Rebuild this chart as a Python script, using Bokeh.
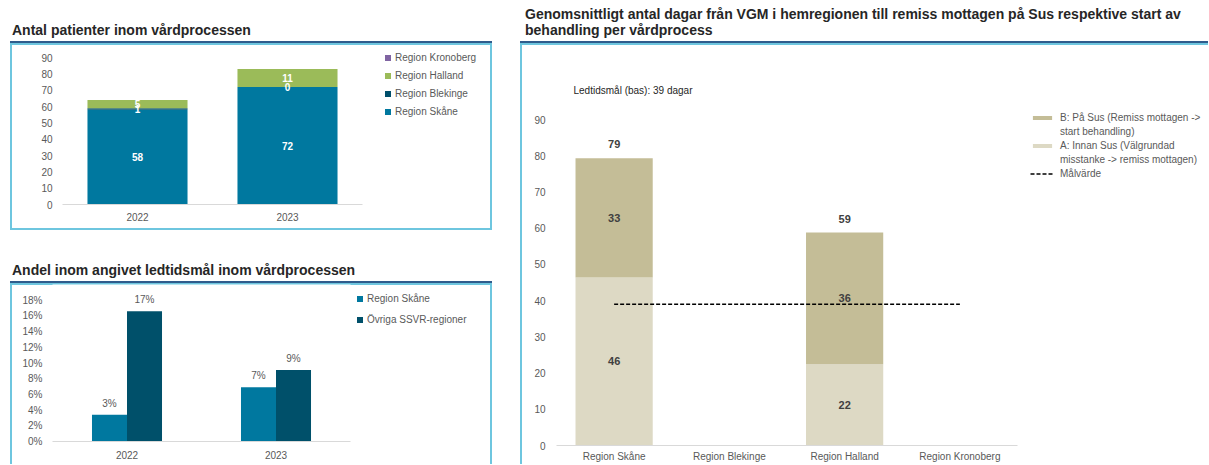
import numpy as np
from bokeh.plotting import figure
from bokeh.models import (ColumnDataSource, FactorRange, Range1d, FixedTicker,
                          NumeralTickFormatter, Legend, LegendItem, Div, Spacer)
from bokeh.layouts import row, column
from bokeh.transform import dodge
from bokeh.core.properties import value
from bokeh.embed import file_html
from bokeh.resources import INLINE

# ---------------- data ----------------
# Antal patienter inom vårdprocessen
years = ["2022", "2023"]
pat_skane = [58, 72]
pat_blekinge = [1, 0]
pat_halland = [5, 11]
pat_kronoberg = [0, 0]
pat_ticks = [0, 10, 20, 30, 40, 50, 60, 70, 80, 90]

# Andel inom angivet ledtidsmål
share_years = ["2022", "2023"]
share_skane = [0.034, 0.069]
share_ovriga = [0.166, 0.091]
share_ticks = [0, 0.02, 0.04, 0.06, 0.08, 0.10, 0.12, 0.14, 0.16, 0.18]

# Genomsnittligt antal dagar
regions = ["Region Skåne", "Region Blekinge", "Region Halland", "Region Kronoberg"]
days_a = [46.4, None, 22.4, None]   # A: Innan Sus
days_b = [32.9, None, 36.4, None]   # B: På Sus
target_days = 39
day_ticks = [0, 10, 20, 30, 40, 50, 60, 70, 80, 90]

# ---------------- style ----------------
FONT = "Liberation Sans"
TICK_COLOR = "#595959"
BOX = "#6EC6DF"
RULE = "#2F5C8C"
C_SKANE = "#00789F"
C_BLEK = "#004F6B"
C_HALL = "#9BBB59"
C_KRON = "#8064A2"
C_OVR = "#00506A"
C_A = "#DDD9C4"
C_B = "#C4BD97"
DASH = "4 2"


def title_div(html, width, height, pad_left):
    t = ('<div style="width:%dpx;height:%dpx;box-sizing:border-box;'
         'border-bottom:2px solid %s;font-family:\'Liberation Sans\';font-weight:bold;'
         'font-size:14px;line-height:16px;color:#262626;display:flex;align-items:flex-end;'
         'white-space:nowrap;padding:0 0 3px %dpx;">%s</div>') % (width, height, RULE, pad_left, html)
    return Div(text=t, width=width, height=height, margin=0)


def box_style(sides):
    g = "linear-gradient(%s, %s)" % (BOX, BOX)
    parts = []
    if "t" in sides:
        parts.append(g + " left top / 100% 2px no-repeat")
    if "l" in sides:
        parts.append(g + " left top / 2px 100% no-repeat")
    if "r" in sides:
        parts.append(g + " right top / 2px 100% no-repeat")
    if "b" in sides:
        parts.append(g + " left bottom / 100% 2px no-repeat")
    parts.append("#ffffff")
    return {"background": ", ".join(parts)}


def style(p, ystand, xstand):
    p.frame_align = False
    p.xgrid.visible = False
    p.ygrid.visible = False
    p.outline_line_color = None
    p.border_fill_alpha = 0
    p.background_fill_color = "white"
    for ax in (p.xaxis[0], p.yaxis[0]):
        ax.major_tick_line_color = None
        ax.minor_tick_line_color = None
        ax.major_tick_out = 0
        ax.major_tick_in = 0
        ax.minor_tick_out = 0
        ax.minor_tick_in = 0
        ax.major_label_text_font = FONT
        ax.major_label_text_font_size = "10px"
        ax.major_label_text_color = TICK_COLOR
    p.yaxis[0].axis_line_color = None
    p.xaxis[0].axis_line_color = "#D9D9D9"
    p.yaxis[0].major_label_standoff = ystand
    p.xaxis[0].major_label_standoff = xstand


def legend_fig(width, height, specs, left, top, gw, gh, lh, sp, standoff, sides):
    # a frameless figure that only holds the legend; its swatch renderers sit outside its ranges
    lf = figure(width=width, height=height, x_range=Range1d(0, 1), y_range=Range1d(0, 1),
                toolbar_location=None, output_backend="svg", title=None,
                x_axis_location=None, y_axis_location=None,
                min_border_left=left, min_border_top=top, min_border_right=0, min_border_bottom=0,
                styles=box_style(sides))
    lf.frame_align = False
    lf.grid.visible = False
    lf.outline_line_color = None
    lf.border_fill_alpha = 0
    lf.background_fill_alpha = 0
    items = []
    for label, kind, color in specs:
        if kind == "square":
            r = lf.scatter(x=[5], y=[5], marker="square", fill_color=color, line_color=None)
        elif kind == "bar":
            r = lf.vbar(x=[5], top=[5], width=0.5, fill_color=color, line_color=None)
        elif kind == "line":
            r = lf.line(x=[5, 6], y=[5, 5], line_color=color, line_dash=DASH, line_width=1.3)
        else:  # continuation line of a wrapped label: no swatch
            r = lf.vbar(x=[5], top=[5], width=0.5, fill_color=None, line_color=None)
        items.append(LegendItem(label=label, renderers=[r]))
    lf.add_layout(Legend(items=items, location="top_left", glyph_width=gw, glyph_height=gh,
                         label_height=lh, spacing=sp, padding=0, margin=0, label_standoff=standoff,
                         border_line_color=None, background_fill_alpha=0,
                         label_text_font=FONT, label_text_font_size="10px",
                         label_text_color=TICK_COLOR))
    return lf


# ---------------- chart 1 ----------------
src1 = ColumnDataSource(dict(year=years, skane=pat_skane, blekinge=pat_blekinge,
                             halland=pat_halland, kronoberg=pat_kronoberg))
p1 = figure(x_range=FactorRange(factors=years), y_range=Range1d(0, 90),
            width=360, height=187, toolbar_location=None, output_backend="svg",
            min_border_left=52, min_border_right=8, min_border_top=14, min_border_bottom=26,
            styles=box_style("tlb"))
p1.vbar_stack(["skane", "blekinge", "halland", "kronoberg"], x="year", width=0.667,
              fill_color=[C_SKANE, C_BLEK, C_HALL, C_KRON], line_color=None, source=src1)
lx, ly, lt = [], [], []
cum = [0, 0]
for series in (pat_skane, pat_blekinge, pat_halland):
    for i, y in enumerate(years):
        lx.append(y)
        ly.append(cum[i] + series[i] / 2)
        lt.append(str(series[i]))
        cum[i] += series[i]
p1.text(x=lx, y=ly, text=lt, text_align="center", text_baseline="middle",
        text_color="white", text_font=value(FONT), text_font_style="bold", text_font_size="10px")
style(p1, 10, 8)
p1.yaxis[0].ticker = FixedTicker(ticks=pat_ticks)
l1 = legend_fig(122, 187, [("Region Kronoberg", "square", C_KRON), ("Region Halland", "square", C_HALL),
                           ("Region Blekinge", "square", C_BLEK), ("Region Skåne", "square", C_SKANE)],
                10, 7, 15, 15, 15, 3, 0, "trb")

# ---------------- chart 2 ----------------
src2 = ColumnDataSource(dict(year=share_years, skane=share_skane, ovriga=share_ovriga,
                             skane_lbl=["%d%%" % round(v * 100) for v in share_skane],
                             ovriga_lbl=["%d%%" % round(v * 100) for v in share_ovriga]))
p2 = figure(x_range=FactorRange(factors=share_years), y_range=Range1d(0, 0.2),
            width=342, height=181, toolbar_location=None, output_backend="svg",
            min_border_left=42, min_border_right=2, min_border_top=1, min_border_bottom=23,
            styles=box_style("tl"))
p2.vbar(x=dodge("year", -0.1175, range=p2.x_range), top="skane", width=0.235,
        fill_color=C_SKANE, line_color=None, source=src2)
p2.vbar(x=dodge("year", 0.1175, range=p2.x_range), top="ovriga", width=0.235,
        fill_color=C_OVR, line_color=None, source=src2)
for off, col, lbl in ((-0.1175, "skane", "skane_lbl"), (0.1175, "ovriga", "ovriga_lbl")):
    p2.text(x=dodge("year", off, range=p2.x_range), y=col, text=lbl, source=src2,
            text_align="center", text_baseline="bottom", y_offset=-6,
            text_color=TICK_COLOR, text_font=value(FONT), text_font_size="10px")
style(p2, 10, 9)
p2.yaxis[0].ticker = FixedTicker(ticks=share_ticks)
p2.yaxis[0].formatter = NumeralTickFormatter(format="0%")
l2 = legend_fig(140, 181, [("Region Skåne", "square", C_SKANE), ("Övriga SSVR-regioner", "square", C_OVR)],
                0, 8, 15, 15, 15, 6, 0, "tr")

# ---------------- chart 3 ----------------
a_arr = np.array([np.nan if v is None else v for v in days_a])
b_arr = np.array([np.nan if v is None else v for v in days_b])
src3 = ColumnDataSource(dict(region=regions, a=a_arr, b=b_arr))
p3 = figure(x_range=FactorRange(factors=regions), y_range=Range1d(0, 90),
            width=500, height=421, toolbar_location=None, output_backend="svg",
            min_border_left=36, min_border_right=3, min_border_top=76, min_border_bottom=19,
            styles=box_style("tl"))
p3.vbar_stack(["a", "b"], x="region", width=0.67, fill_color=[C_A, C_B],
              line_color=None, source=src3)
p3.line(x=regions, y=[target_days] * len(regions), line_dash=DASH,
        line_color="black", line_width=1.3)
sx, sy, st = [], [], []
tx, ty, tt = [], [], []
for reg, a, b in zip(regions, days_a, days_b):
    if a is None:
        continue
    sx += [reg, reg]
    sy += [a / 2, a + b / 2]
    st += [str(round(a)), str(round(b))]
    tx.append(reg)
    ty.append(a + b)
    tt.append(str(round(a + b)))
p3.text(x=sx, y=sy, text=st, text_align="center", text_baseline="middle",
        text_color="#404040", text_font=value(FONT), text_font_style="bold", text_font_size="11px")
p3.text(x=tx, y=ty, text=tt, text_align="center", text_baseline="bottom", y_offset=-10,
        text_color="#404040", text_font=value(FONT), text_font_style="bold", text_font_size="11px")
style(p3, 11, 5)
p3.yaxis[0].ticker = FixedTicker(ticks=day_ticks)
p3.title.text = "Ledtidsmål (bas): 39 dagar"
p3.title.align = "left"
p3.title.offset = 17
p3.title.standoff = 47
p3.title.text_font = FONT
p3.title.text_font_size = "10px"
p3.title.text_font_style = "normal"
p3.title.text_color = "#262626"
l3 = legend_fig(188, 421, [("B: På Sus (Remiss mottagen ->", "bar", C_B),
                           ("start behandling)", "blank", None),
                           ("A: Innan Sus (Välgrundad", "bar", C_A),
                           ("misstanke -> remiss mottagen)", "blank", None),
                           ("Målvärde", "line", "black")],
                10, 68, 24, 5, 13, 1, 6, "t")

# ---------------- layout ----------------
left = column(title_div("Antal patienter inom vårdprocessen", 482, 43, 2), row(p1, l1, spacing=0),
              title_div("Andel inom angivet ledtidsmål inom vårdprocessen", 482, 53, 2), row(p2, l2, spacing=0),
              spacing=0)
right = column(title_div("Genomsnittligt antal dagar från VGM i hemregionen till remiss mottagen på Sus "
                         "respektive start av<br>behandling per vårdprocess", 688, 43, 5),
               row(p3, l3, spacing=0), spacing=0)
page = row(Spacer(width=10, height=10), left, Spacer(width=28, height=10), right, spacing=0)

open("out.html", "w").write(file_html(page, INLINE))
